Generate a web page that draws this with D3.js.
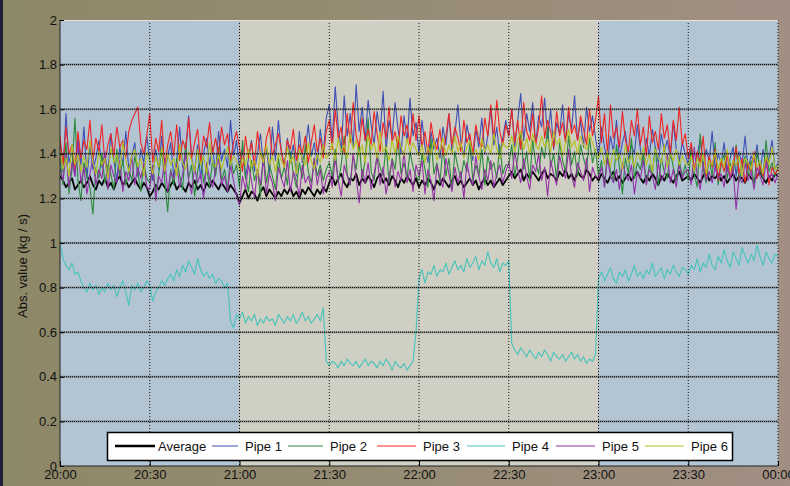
<!DOCTYPE html>
<html>
<head>
<meta charset="utf-8">
<script src="https://cdn.jsdelivr.net/npm/d3@7"></script>
<style>
  html, body { margin: 0; padding: 0; }
  body { width: 790px; height: 486px; overflow: hidden; }
  svg text { font-family: "Liberation Sans", Arial, sans-serif; fill: #111; }
</style>
</head>
<body>
<svg id="chart" width="790" height="486"></svg>
<script>
// one sample a minute, 20:00 -> 00:00
const START = new Date(2020, 0, 1, 20, 0);
const END = new Date(2020, 0, 2, 0, 0);

const SERIES_NAMES = ["Average", "Pipe 1", "Pipe 2", "Pipe 3", "Pipe 4", "Pipe 5", "Pipe 6"];
const SERIES_COLORS = ["#000000", "#3f4fb3", "#2d8a3d", "#ef2525", "#46c3bb", "#9531a6", "#b5c21f"];

const average = [
  1.30,1.28,1.25,1.27,1.29,1.24,1.26,1.28,1.25,1.27,1.30,1.26,1.24,1.28,1.26,1.29,1.25,1.27,1.24,1.28,1.30,1.26,1.28,1.25,1.27,1.29,1.26,1.24,1.27,1.25,
  1.21,1.23,1.26,1.24,1.27,1.25,1.23,1.26,1.28,1.24,1.26,1.25,1.23,1.27,1.25,1.28,1.24,1.26,1.23,1.27,1.25,1.28,1.26,1.24,1.27,1.25,1.23,1.26,1.24,1.22,
  1.18,1.21,1.24,1.20,1.23,1.22,1.19,1.23,1.25,1.21,1.24,1.22,1.20,1.23,1.21,1.24,1.22,1.25,1.21,1.23,1.20,1.24,1.22,1.25,1.23,1.21,1.24,1.22,1.25,1.23,
  1.27,1.30,1.26,1.29,1.31,1.27,1.25,1.29,1.28,1.31,1.26,1.29,1.27,1.30,1.28,1.25,1.29,1.31,1.27,1.29,1.26,1.30,1.28,1.25,1.29,1.27,1.30,1.28,1.26,1.29,
  1.25,1.28,1.26,1.29,1.27,1.24,1.28,1.26,1.29,1.27,1.25,1.28,1.30,1.26,1.28,1.25,1.27,1.29,1.26,1.28,1.24,1.27,1.29,1.26,1.28,1.25,1.27,1.29,1.26,1.28,
  1.30,1.32,1.29,1.31,1.33,1.28,1.31,1.29,1.32,1.30,1.28,1.31,1.33,1.29,1.31,1.30,1.28,1.32,1.30,1.33,1.29,1.31,1.28,1.32,1.30,1.29,1.33,1.31,1.28,1.30,
  1.28,1.31,1.29,1.27,1.30,1.32,1.28,1.30,1.27,1.29,1.31,1.28,1.30,1.32,1.29,1.27,1.30,1.28,1.31,1.29,1.26,1.30,1.28,1.31,1.29,1.27,1.30,1.32,1.28,1.29,
  1.30,1.28,1.31,1.29,1.27,1.30,1.32,1.28,1.30,1.29,1.31,1.28,1.30,1.27,1.29,1.31,1.28,1.30,1.29,1.27,1.31,1.29,1.28,1.30,1.32,1.29,1.27,1.30,1.28,1.31,
  1.30
];
const pipe1 = [
  1.45,1.32,1.58,1.36,1.41,1.30,1.47,1.35,1.52,1.29,1.44,1.33,1.38,1.46,1.34,1.40,1.31,1.49,1.37,1.28,1.43,1.35,1.50,1.33,1.39,1.45,1.30,1.42,1.36,1.48,
  1.37,1.28,1.42,1.33,1.48,1.31,1.39,1.45,1.30,1.36,1.52,1.34,1.41,1.57,1.38,1.32,1.44,1.29,1.40,1.47,1.35,1.43,1.31,1.50,1.37,1.42,1.34,1.55,1.39,1.46,
  1.33,1.42,1.29,1.38,1.46,1.32,1.40,1.49,1.35,1.43,1.31,1.52,1.37,1.55,1.41,1.34,1.47,1.38,1.44,1.30,1.50,1.36,1.42,1.53,1.39,1.45,1.35,1.51,1.40,1.56,
  1.62,1.45,1.70,1.52,1.41,1.66,1.48,1.58,1.43,1.71,1.50,1.61,1.46,1.64,1.53,1.44,1.59,1.49,1.68,1.42,1.55,1.47,1.63,1.51,1.40,1.57,1.45,1.65,1.48,1.54,
  1.40,1.55,1.43,1.36,1.50,1.42,1.47,1.38,1.52,1.44,1.58,1.41,1.49,1.62,1.45,1.39,1.53,1.46,1.37,1.51,1.43,1.56,1.40,1.48,1.60,1.44,1.52,1.38,1.47,1.55,
  1.48,1.60,1.43,1.55,1.67,1.46,1.58,1.50,1.63,1.44,1.57,1.52,1.65,1.47,1.60,1.42,1.54,1.49,1.62,1.45,1.58,1.51,1.66,1.46,1.55,1.43,1.61,1.50,1.57,1.47,
  1.39,1.52,1.43,1.36,1.48,1.41,1.55,1.38,1.45,1.50,1.37,1.44,1.40,1.53,1.42,1.35,1.47,1.39,1.51,1.43,1.36,1.49,1.41,1.46,1.38,1.54,1.42,1.37,1.45,1.40,
  1.35,1.44,1.31,1.39,1.47,1.34,1.42,1.37,1.50,1.33,1.40,1.36,1.45,1.32,1.38,1.43,1.30,1.41,1.35,1.48,1.33,1.39,1.36,1.44,1.31,1.42,1.34,1.38,1.46,1.33,
  1.36
];
const pipe2 = [
  1.38,1.26,1.45,1.22,1.33,1.56,1.28,1.19,1.36,1.30,1.25,1.13,1.34,1.29,1.40,1.27,1.35,1.31,1.24,1.42,1.30,1.37,1.26,1.33,1.28,1.39,1.32,1.23,1.36,1.29,
  1.27,1.35,1.22,1.31,1.42,1.28,1.14,1.33,1.26,1.38,1.30,1.24,1.45,1.29,1.35,1.21,1.32,1.40,1.27,1.34,1.25,1.37,1.30,1.43,1.28,1.33,1.24,1.39,1.31,1.35,
  1.25,1.46,1.30,1.23,1.37,1.28,1.33,1.21,1.40,1.27,1.35,1.30,1.24,1.38,1.29,1.34,1.26,1.41,1.31,1.25,1.36,1.29,1.44,1.32,1.27,1.38,1.30,1.35,1.28,1.33,
  1.36,1.30,1.42,1.27,1.35,1.48,1.31,1.26,1.39,1.33,1.45,1.29,1.37,1.56,1.32,1.28,1.40,1.34,1.30,1.44,1.27,1.38,1.33,1.47,1.31,1.36,1.29,1.41,1.34,1.30,
  1.28,1.40,1.33,1.25,1.47,1.31,1.36,1.27,1.43,1.30,1.38,1.24,1.41,1.34,1.29,1.37,1.32,1.45,1.28,1.35,1.30,1.42,1.26,1.39,1.33,1.36,1.29,1.44,1.31,1.35,
  1.35,1.44,1.30,1.38,1.50,1.33,1.41,1.28,1.46,1.36,1.31,1.43,1.38,1.52,1.34,1.40,1.29,1.45,1.37,1.32,1.48,1.35,1.41,1.30,1.44,1.38,1.33,1.47,1.36,1.42,
  1.30,1.37,1.25,1.41,1.32,1.28,1.44,1.34,1.22,1.38,1.31,1.47,1.29,1.36,1.33,1.40,1.27,1.35,1.31,1.43,1.26,1.38,1.32,1.29,1.41,1.34,1.28,1.37,1.30,1.35,
  1.28,1.42,1.31,1.25,1.49,1.33,1.27,1.38,1.30,1.45,1.26,1.35,1.40,1.29,1.36,1.31,1.44,1.27,1.34,1.39,1.30,1.37,1.25,1.41,1.33,1.29,1.46,1.32,1.36,1.30,
  1.34
];
const pipe3 = [
  1.48,1.35,1.52,1.40,1.44,1.33,1.50,1.38,1.46,1.42,1.55,1.37,1.47,1.41,1.53,1.36,1.44,1.49,1.39,1.52,1.43,1.46,1.38,1.50,1.55,1.58,1.61,1.45,1.40,1.48,
  1.58,1.36,1.47,1.41,1.55,1.34,1.44,1.50,1.39,1.53,1.37,1.46,1.42,1.56,1.38,1.45,1.51,1.36,1.48,1.43,1.54,1.40,1.47,1.39,1.52,1.44,1.49,1.37,1.45,1.50,
  1.43,1.32,1.48,1.38,1.45,1.35,1.50,1.40,1.36,1.47,1.52,1.39,1.44,1.49,1.41,1.34,1.46,1.42,1.51,1.37,1.44,1.40,1.48,1.36,1.45,1.53,1.41,1.47,1.38,1.50,
  1.55,1.42,1.60,1.47,1.52,1.40,1.58,1.45,1.63,1.48,1.43,1.56,1.46,1.51,1.44,1.59,1.49,1.41,1.54,1.47,1.61,1.45,1.50,1.42,1.57,1.48,1.53,1.44,1.58,1.46,
  1.57,1.43,1.50,1.40,1.54,1.46,1.42,1.51,1.39,1.48,1.58,1.44,1.52,1.47,1.41,1.55,1.45,1.49,1.40,1.53,1.46,1.43,1.56,1.48,1.62,1.47,1.64,1.50,1.44,1.53,
  1.48,1.60,1.45,1.55,1.42,1.63,1.50,1.46,1.58,1.44,1.52,1.66,1.47,1.55,1.50,1.43,1.59,1.48,1.54,1.45,1.61,1.49,1.53,1.46,1.57,1.51,1.44,1.60,1.48,1.55,
  1.66,1.45,1.58,1.40,1.62,1.47,1.52,1.43,1.59,1.46,1.41,1.55,1.48,1.60,1.44,1.52,1.39,1.57,1.45,1.50,1.42,1.58,1.47,1.53,1.40,1.55,1.46,1.61,1.44,1.49,
  1.38,1.45,1.33,1.41,1.36,1.48,1.30,1.39,1.34,1.42,1.28,1.37,1.32,1.40,1.29,1.35,1.43,1.31,1.38,1.27,1.36,1.32,1.41,1.29,1.35,1.30,1.38,1.26,1.34,1.31,
  1.33
];
const pipe4 = [
  1.00,0.93,0.90,0.88,0.91,0.86,0.87,0.83,0.80,0.78,0.82,0.79,0.81,0.77,0.80,0.78,0.82,0.79,0.81,0.76,0.80,0.83,0.78,0.72,0.81,0.79,0.82,0.78,0.80,0.83,
  0.81,0.74,0.78,0.80,0.83,0.81,0.84,0.86,0.83,0.88,0.85,0.90,0.87,0.92,0.89,0.86,0.93,0.88,0.85,0.87,0.84,0.86,0.82,0.84,0.83,0.80,0.82,0.65,0.62,0.68,
  0.66,0.69,0.64,0.67,0.65,0.68,0.63,0.66,0.64,0.67,0.65,0.66,0.63,0.68,0.66,0.64,0.67,0.65,0.68,0.64,0.66,0.69,0.65,0.67,0.64,0.66,0.68,0.65,0.71,0.47,
  0.45,0.47,0.46,0.44,0.47,0.45,0.48,0.46,0.45,0.47,0.44,0.46,0.48,0.45,0.47,0.46,0.44,0.47,0.45,0.48,0.46,0.43,0.47,0.45,0.44,0.46,0.43,0.45,0.47,0.60,
  0.84,0.88,0.82,0.87,0.86,0.90,0.85,0.88,0.87,0.91,0.86,0.89,0.92,0.88,0.90,0.87,0.93,0.89,0.91,0.94,0.88,0.92,0.90,0.96,0.91,0.89,0.93,0.87,0.91,0.90,
  0.92,0.55,0.52,0.50,0.53,0.51,0.49,0.52,0.50,0.48,0.51,0.49,0.52,0.50,0.47,0.51,0.49,0.48,0.50,0.47,0.49,0.51,0.48,0.50,0.47,0.49,0.46,0.48,0.47,0.50,
  0.84,0.87,0.83,0.86,0.89,0.84,0.82,0.87,0.85,0.88,0.83,0.86,0.90,0.85,0.87,0.84,0.88,0.86,0.91,0.85,0.87,0.89,0.84,0.88,0.86,0.90,0.87,0.85,0.89,0.88,
  0.86,0.90,0.88,0.93,0.87,0.91,0.89,0.95,0.90,0.88,0.94,0.91,0.97,0.92,0.89,0.96,0.93,0.90,0.98,0.94,0.91,0.95,0.92,0.99,0.94,0.90,0.96,0.93,0.91,0.95,
  0.94
];
const pipe5 = [
  1.33,1.28,1.40,1.25,1.36,1.30,1.45,1.27,1.34,1.22,1.31,1.38,1.26,1.33,1.29,1.41,1.24,1.35,1.30,1.27,1.37,1.23,1.32,1.28,1.39,1.26,1.34,1.29,1.36,1.25,
  1.24,1.35,1.19,1.30,1.27,1.38,1.23,1.32,1.29,1.36,1.25,1.31,1.40,1.28,1.22,1.34,1.27,1.31,1.20,1.36,1.29,1.25,1.33,1.38,1.26,1.30,1.23,1.35,1.28,1.21,
  1.17,1.30,1.24,1.35,1.28,1.20,1.33,1.26,1.38,1.22,1.31,1.27,1.19,1.34,1.29,1.25,1.37,1.23,1.32,1.28,1.21,1.35,1.27,1.30,1.24,1.38,1.26,1.33,1.22,1.29,
  1.32,1.25,1.38,1.28,1.21,1.35,1.30,1.26,1.40,1.29,1.18,1.33,1.27,1.36,1.24,1.31,1.39,1.26,1.34,1.22,1.30,1.37,1.25,1.32,1.28,1.41,1.27,1.33,1.23,1.35,
  1.30,1.37,1.22,1.33,1.28,1.19,1.35,1.29,1.25,1.38,1.31,1.23,1.34,1.27,1.32,1.20,1.36,1.29,1.26,1.39,1.30,1.24,1.33,1.28,1.37,1.25,1.31,1.35,1.27,1.32,
  1.36,1.29,1.41,1.33,1.27,1.38,1.30,1.24,1.35,1.32,1.40,1.28,1.34,1.21,1.37,1.31,1.26,1.39,1.33,1.29,1.42,1.30,1.25,1.36,1.32,1.28,1.38,1.23,1.34,1.30,
  1.29,1.34,1.25,1.38,1.30,1.27,1.33,1.24,1.36,1.31,1.28,1.35,1.22,1.32,1.29,1.37,1.26,1.33,1.30,1.24,1.36,1.28,1.31,1.40,1.27,1.33,1.25,1.35,1.29,1.32,
  1.33,1.26,1.43,1.30,1.24,1.36,1.28,1.32,1.27,1.34,1.29,1.31,1.25,1.35,1.29,1.33,1.15,1.30,1.27,1.36,1.28,1.32,1.24,1.34,1.30,1.26,1.37,1.29,1.31,1.27,
  1.31
];
const pipe6 = [
  1.42,1.33,1.38,1.30,1.44,1.35,1.40,1.32,1.39,1.34,1.46,1.36,1.31,1.41,1.35,1.38,1.29,1.43,1.36,1.40,1.33,1.45,1.37,1.32,1.39,1.42,1.34,1.38,1.30,1.41,
  1.36,1.31,1.39,1.34,1.43,1.32,1.40,1.35,1.38,1.30,1.44,1.36,1.33,1.41,1.37,1.32,1.42,1.35,1.39,1.31,1.45,1.36,1.34,1.40,1.33,1.38,1.43,1.35,1.39,1.37,
  1.33,1.38,1.35,1.42,1.34,1.37,1.30,1.41,1.36,1.44,1.35,1.39,1.32,1.40,1.37,1.34,1.43,1.36,1.39,1.31,1.42,1.38,1.35,1.45,1.37,1.33,1.40,1.36,1.44,1.38,
  1.40,1.45,1.37,1.47,1.41,1.44,1.38,1.49,1.42,1.46,1.39,1.44,1.36,1.48,1.42,1.45,1.38,1.50,1.41,1.43,1.37,1.46,1.40,1.48,1.43,1.39,1.47,1.41,1.45,1.42,
  1.39,1.44,1.36,1.43,1.40,1.46,1.37,1.42,1.47,1.39,1.44,1.40,1.48,1.41,1.45,1.38,1.43,1.46,1.39,1.42,1.37,1.47,1.41,1.44,1.40,1.49,1.42,1.38,1.45,1.43,
  1.43,1.48,1.41,1.46,1.50,1.42,1.47,1.40,1.49,1.44,1.42,1.48,1.43,1.46,1.41,1.50,1.44,1.47,1.39,1.45,1.51,1.43,1.46,1.40,1.48,1.44,1.42,1.49,1.45,1.41,
  1.38,1.43,1.35,1.41,1.34,1.42,1.37,1.40,1.33,1.44,1.36,1.39,1.34,1.41,1.37,1.43,1.35,1.40,1.32,1.42,1.38,1.36,1.44,1.34,1.40,1.37,1.42,1.35,1.39,1.36,
  1.35,1.39,1.32,1.38,1.34,1.40,1.31,1.37,1.35,1.41,1.33,1.38,1.34,1.42,1.32,1.37,1.35,1.39,1.30,1.38,1.36,1.33,1.40,1.34,1.37,1.31,1.39,1.35,1.43,1.33,
  1.35
];
const SERIES_VALUES = [average, pipe1, pipe2, pipe3, pipe4, pipe5, pipe6];

const Y_TICKS = [0, 0.2, 0.4, 0.6, 0.8, 1, 1.2, 1.4, 1.6, 1.8, 2];
const Y_TICK_LABELS = ["0", "0.2", "0.4", "0.6", "0.8", "1", "1.2", "1.4", "1.6", "1.8", "2"];
const X_TICK_LABELS = ["20:00", "20:30", "21:00", "21:30", "22:00", "22:30", "23:00", "23:30", "00:00"];
// shaded periods: [start hour offset, end hour offset, kind]
const BANDS = [[0, 1, "blue"], [1, 3, "beige"], [3, 4, "blue"]];

const svg = d3.select("#chart");
const margin = { top: 20, right: 12, bottom: 20, left: 60 };
const W = 790, H = 486;
const plotW = W - margin.left - margin.right;
const plotH = H - margin.top - margin.bottom;

// window background
const defs = svg.append("defs");
const grad = defs.append("linearGradient").attr("id", "bg").attr("x1", 0).attr("x2", 1).attr("y1", 0).attr("y2", 0);
grad.append("stop").attr("offset", "0%").attr("stop-color", "#8d8867");
grad.append("stop").attr("offset", "55%").attr("stop-color", "#978c76");
grad.append("stop").attr("offset", "100%").attr("stop-color", "#a18f83");
svg.append("rect").attr("width", W).attr("height", H).attr("fill", "url(#bg)");
svg.append("rect").attr("width", 3).attr("height", H).attr("fill", "#1e1d3a");

const x = d3.scaleTime().domain([START, END]).range([0, plotW]);
const y = d3.scaleLinear().domain([0, 2]).range([plotH, 0]);
const hourAt = (h) => new Date(START.getTime() + h * 3600000);

const g = svg.append("g").attr("transform", `translate(${margin.left},${margin.top})`);

g.selectAll("rect.band")
  .data(BANDS)
  .join("rect")
  .attr("class", "band")
  .attr("x", (d) => x(hourAt(d[0])))
  .attr("width", (d) => x(hourAt(d[1])) - x(hourAt(d[0])))
  .attr("y", 0)
  .attr("height", plotH)
  .attr("fill", (d) => (d[2] === "blue" ? "#b3c5d3" : "#cfd0c3"));

const clip = defs.append("clipPath").attr("id", "plotclip");
clip.append("rect").attr("width", plotW).attr("height", plotH);

function seriesPath(values) {
  const t = d3.scaleLinear().domain([0, values.length - 1]).range([START, END]);
  return d3.line().x((_, i) => x(t(i))).y((d) => y(d))(values);
}
g.append("g")
  .attr("clip-path", "url(#plotclip)")
  .selectAll("path.series")
  .data(SERIES_VALUES)
  .join("path")
  .attr("class", "series")
  .attr("fill", "none")
  .attr("stroke", (_, i) => SERIES_COLORS[i])
  .attr("stroke-width", (_, i) => (i === 0 ? 1.8 : 1.1))
  .attr("stroke-linejoin", "round")
  .attr("d", seriesPath);

// grid drawn over the data
const xTicks = d3.range(X_TICK_LABELS.length).map((i) => hourAt(i * 0.5));
g.selectAll("line.hgrid-under")
  .data(Y_TICKS.slice(1, -1))
  .join("line")
  .attr("x1", 0).attr("x2", plotW)
  .attr("y1", (d) => y(d)).attr("y2", (d) => y(d))
  .attr("stroke", "#4a4a4a").attr("stroke-opacity", 0.45).attr("stroke-width", 2);
g.selectAll("line.hgrid")
  .data(Y_TICKS.slice(1, -1))
  .join("line")
  .attr("x1", 0).attr("x2", plotW)
  .attr("y1", (d) => y(d)).attr("y2", (d) => y(d))
  .attr("stroke", "#000").attr("stroke-width", 1).attr("stroke-dasharray", "1,1");
g.selectAll("line.vgrid")
  .data(xTicks.slice(1))
  .join("line")
  .attr("x1", (d) => x(d)).attr("x2", (d) => x(d))
  .attr("y1", 0).attr("y2", plotH)
  .attr("stroke", "#111").attr("stroke-width", 1).attr("stroke-dasharray", "1,2");

// frame
g.append("line").attr("x1", 0).attr("x2", plotW).attr("y1", 0.5).attr("y2", 0.5)
  .attr("stroke", "#e4e2da").attr("stroke-width", 1);
g.append("line").attr("x1", 0).attr("x2", 0).attr("y1", 0).attr("y2", plotH)
  .attr("stroke", "#222").attr("stroke-width", 1);
g.append("line").attr("x1", 0).attr("x2", plotW).attr("y1", plotH).attr("y2", plotH)
  .attr("stroke", "#222").attr("stroke-width", 1);

// axes
const yAxis = d3.axisLeft(y).tickValues(Y_TICKS).tickSize(4)
  .tickFormat((_, i) => Y_TICK_LABELS[i]);
const ya = g.append("g").call(yAxis);
ya.select(".domain").remove();
ya.selectAll(".tick line").attr("x2", 4).attr("x1", 0).attr("stroke", "#000");
ya.selectAll(".tick text").attr("x", -3).attr("font-size", 13).attr("fill", "#111")
  .style("font-family", "'Liberation Sans', Arial, sans-serif");

const xAxis = d3.axisBottom(x).tickValues(xTicks).tickSize(0)
  .tickFormat((_, i) => X_TICK_LABELS[i]);
const xa = g.append("g").attr("transform", `translate(0,${plotH})`).call(xAxis);
xa.select(".domain").remove();
xa.selectAll(".tick text").attr("y", 4).attr("font-size", 13).attr("fill", "#111")
  .style("font-family", "'Liberation Sans', Arial, sans-serif");
xa.selectAll(".tick").append("line").attr("y1", 0).attr("y2", -5).attr("stroke", "#000");

svg.append("text")
  .attr("transform", "translate(27,266) rotate(-90)")
  .attr("text-anchor", "middle")
  .attr("font-size", 13)
  .text("Abs. value (kg / s)");

// legend
const legend = svg.append("g").attr("transform", "translate(107,432)");
legend.append("rect").attr("x", 0.5).attr("y", 0.5).attr("width", 625).attr("height", 28)
  .attr("fill", "#fff").attr("stroke", "#000").attr("stroke-width", 1.5);
const LEGEND_X = [8, 105, 181, 270, 360, 449, 538];
const LEGEND_SAMPLE = [40, 26, 35, 39, 38, 39, 39];
const items = legend.selectAll("g.item")
  .data(SERIES_NAMES)
  .join("g")
  .attr("class", "item")
  .attr("transform", (_, i) => `translate(${LEGEND_X[i]},14)`);
items.append("line")
  .attr("x1", 0).attr("x2", (_, i) => LEGEND_SAMPLE[i])
  .attr("stroke", (_, i) => SERIES_COLORS[i])
  .attr("stroke-width", (_, i) => (i === 0 ? 2.5 : 1));
items.append("text")
  .attr("x", (_, i) => LEGEND_SAMPLE[i] + (i === 0 ? 3 : 7))
  .attr("dy", "0.35em")
  .attr("font-size", 13)
  .text((d) => d);
</script>
</body>
</html>
